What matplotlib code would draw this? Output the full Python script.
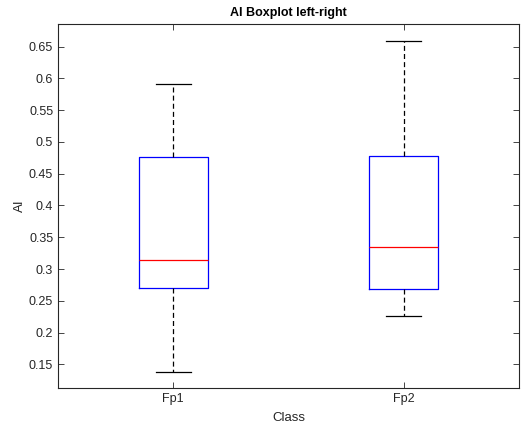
import matplotlib
matplotlib.use("Agg")
from matplotlib import pyplot as plt

plt.rcParams['font.family'] = ['Liberation Sans', 'DejaVu Sans']

# valeurs
classes = ['Fp1', 'Fp2']
whisker_low = [0.138, 0.226]
q1 = [0.270, 0.268]
medians = [0.314, 0.334]
q3 = [0.477, 0.478]
whisker_high = [0.592, 0.659]

stats = []
for i in range(len(classes)):
    stats.append({'label': classes[i], 'whislo': whisker_low[i], 'q1': q1[i],
                  'med': medians[i], 'q3': q3[i], 'whishi': whisker_high[i], 'fliers': []})

fig = plt.figure(figsize=(5.21, 4.23), dpi=100)
ax = fig.add_axes([58/521, 1-388/423, 461/521, 364/423])

ax.bxp(stats, positions=[1, 2], widths=0.3, showfliers=False,
       boxprops=dict(color='blue', lw=0.9),
       medianprops=dict(color='red', lw=0.9),
       whiskerprops=dict(color='black', lw=0.9, linestyle=(0, (4, 2.5))),
       capprops=dict(color='black', lw=0.9),
       capwidths=0.15)

ax.set_xlim(0.5, 2.5)
ax.set_ylim(0.1127, 0.6857)
ax.set_yticks([0.15, 0.2, 0.25, 0.3, 0.35, 0.4, 0.45, 0.5, 0.55, 0.6, 0.65])
ax.set_yticklabels(['0.15', '0.2', '0.25', '0.3', '0.35', '0.4', '0.45', '0.5', '0.55', '0.6', '0.65'])
ax.tick_params(direction='in', top=True, right=True, labelsize=9, colors='#262626', length=4, width=0.6)
for s in ax.spines.values():
    s.set_color('#262626')
    s.set_linewidth(0.8)

ax.set_title('AI Boxplot left-right', fontsize=9, fontweight='bold', pad=6)
ax.set_xlabel('Class', fontsize=9.5, color='#262626', labelpad=5)
ax.set_ylabel('AI', fontsize=9.5, color='#262626', labelpad=2)

fig.savefig('out.png', dpi=100)
